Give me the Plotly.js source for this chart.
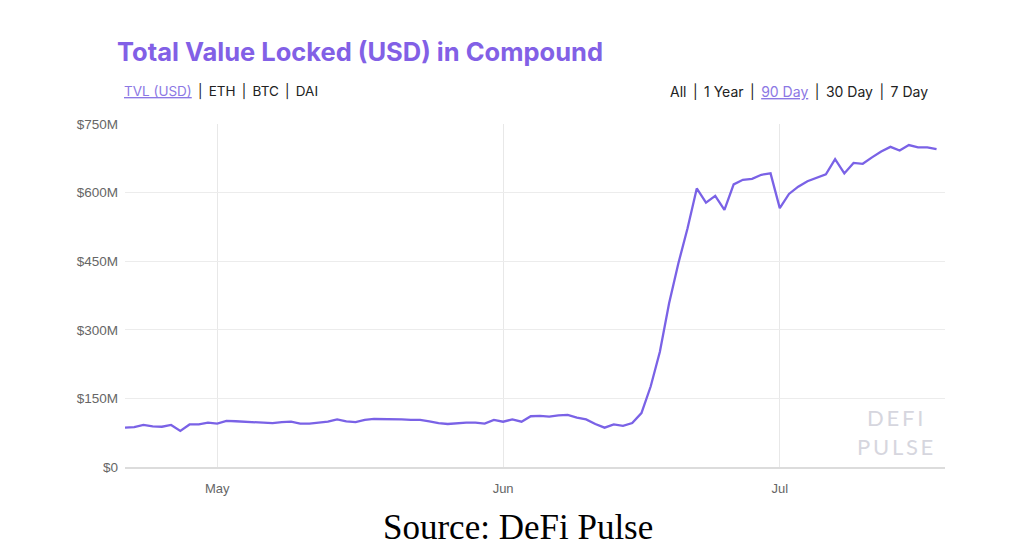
<!DOCTYPE html>
<html>
<head>
<meta charset="utf-8">
<script src="https://cdn.plot.ly/plotly-3.0.1.min.js"></script>
<style>
  html, body { margin: 0; padding: 0; background: #fff; }
  #chart { width: 1017px; height: 555px; }
</style>
</head>
<body>
<div id="chart"></div>
<script>
// daily TVL in Compound, millions of USD, 21 Apr 2020 .. 18 Jul 2020
const startDate = '2020-04-21';
const tvlMillions = [
  86, 87, 92, 89, 88, 92, 79, 93, 93, 97,
  95, 101, 100, 99, 98, 96, 96, 98, 99, 95,
  95, 97, 99, 104, 100, 98, 103, 105, 105, 104,
  104, 103, 103, 100, 96, 94, 96, 97, 97, 95,
  103, 99, 104, 99, 111, 112, 110, 113, 114, 108,
  104, 94, 86, 93, 90, 96, 118, 176, 252, 358,
  445, 522, 609, 578, 593, 562, 618, 628, 630, 639,
  642, 566, 597, 613, 625, 633, 640, 673, 642, 665,
  663, 677, 690, 700, 692, 704, 699, 699, 695
];
const yTickVals = [0, 150, 300, 450, 600, 750];
const yTickText = ['$0', '$150M', '$300M', '$450M', '$600M', '$750M'];
const xTickVals = ['2020-05-01', '2020-06-01', '2020-07-01'];
const xTickText = ['May', 'Jun', 'Jul'];

function dayList(start, n) {
  const out = [];
  const d0 = new Date(start + 'T00:00:00Z');
  for (let i = 0; i < n; i++) {
    const d = new Date(d0.getTime() + i * 86400000);
    out.push(d.toISOString().slice(0, 10));
  }
  return out;
}
const dates = dayList(startDate, tvlMillions.length);

const purple = '#7a62e6';
const sp = '\u2009';

const trace = {
  x: dates,
  y: tvlMillions,
  type: 'scatter',
  mode: 'lines',
  line: { color: purple, width: 2.3 },
  hoverinfo: 'x+y'
};

const layout = {
  width: 1017,
  height: 555,
  margin: { l: 125, r: 72, t: 124, b: 88 },
  paper_bgcolor: '#ffffff',
  plot_bgcolor: '#ffffff',
  showlegend: false,
  font: { family: 'Liberation Sans, Arial, sans-serif', color: '#666' },
  xaxis: {
    type: 'date',
    range: ['2020-04-21 00:00', '2020-07-18 22:00'],
    tickvals: xTickVals,
    ticktext: xTickText,
    showgrid: true,
    gridcolor: '#e8e8e8',
    gridwidth: 1,
    zeroline: false,
    showline: true,
    linecolor: '#dcdcdc',
    linewidth: 1.5,
    ticks: '',
    ticklabelstandoff: 9,
    tickfont: { size: 13, color: '#666' },
    fixedrange: true
  },
  yaxis: {
    range: [0, 750],
    tickvals: yTickVals,
    ticktext: yTickText,
    showgrid: true,
    gridcolor: '#ececec',
    gridwidth: 1,
    zeroline: false,
    showline: false,
    ticks: '',
    ticklabelstandoff: 6,
    tickfont: { size: 13.5, color: '#666' },
    fixedrange: true
  },
  annotations: [
    {
      xref: 'paper', yref: 'paper', x: -0.012, y: 1.21,
      xanchor: 'left', yanchor: 'middle', showarrow: false,
      text: '<b>Total Value Locked (USD) in Compound</b>',
      font: { family: 'Inter, Lato, sans-serif', size: 25.5, color: '#8260e6' }
    },
    {
      xref: 'paper', yref: 'paper', x: -0.0037, y: 1.096,
      xanchor: 'left', yanchor: 'middle', showarrow: false,
      text: '<span style="text-decoration:underline;fill:#8c78e4">TVL (USD)</span>' + sp + ' | ' + sp + 'ETH' + sp + ' | ' + sp + 'BTC' + sp + ' | ' + sp + 'DAI',
      font: { family: 'Inter, sans-serif', size: 13.5, color: '#222' }
    },
    {
      xref: 'paper', yref: 'paper', x: 0.982, y: 1.096,
      xanchor: 'right', yanchor: 'middle', showarrow: false,
      text: 'All' + sp + ' | ' + sp + '1 Year' + sp + ' | ' + sp + '<span style="text-decoration:underline;fill:#8c78e4">90 Day</span>' + sp + ' | ' + sp + '30 Day' + sp + ' | ' + sp + '7 Day',
      font: { family: 'Inter, sans-serif', size: 14, color: '#222' }
    },
    {
      xref: 'paper', yref: 'paper', x: 0.939, y: 0.102,
      xanchor: 'center', yanchor: 'middle', showarrow: false,
      text: 'D' + sp + 'E' + sp + 'F' + sp + 'I<br>P' + sp + 'U' + sp + 'L' + sp + 'S' + sp + 'E',
      align: 'center',
      font: { family: 'Lato, sans-serif', size: 22, color: '#d6d6de' }
    },
    {
      xref: 'paper', yref: 'paper', x: 0.479, y: -0.175,
      xanchor: 'center', yanchor: 'middle', showarrow: false,
      text: 'Source: DeFi Pulse',
      font: { family: 'Liberation Serif, Times New Roman, serif', size: 35, color: '#000' }
    }
  ]
};

Plotly.newPlot('chart', [trace], layout, { displayModeBar: false, staticPlot: true });
</script>
</body>
</html>
